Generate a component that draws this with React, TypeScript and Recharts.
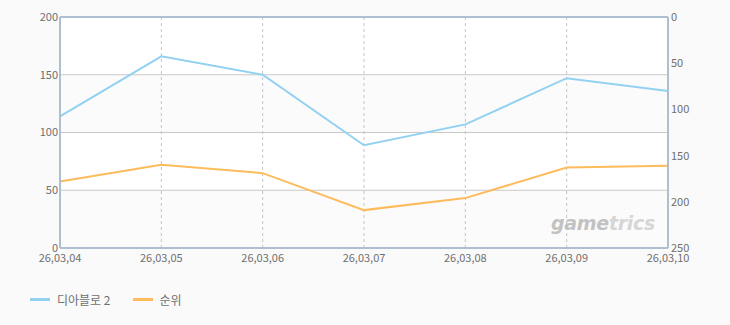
import { CartesianGrid, Line, LineChart, ReferenceLine, XAxis, YAxis } from 'recharts';

const dates = ['26,03,04', '26,03,05', '26,03,06', '26,03,07', '26,03,08', '26,03,09', '26,03,10'];
const users = [114, 166, 150, 89, 107, 147, 136];
const rank = [178, 160, 169, 209, 196, 163, 161];
const leftTicks = [0, 50, 100, 150, 200];
const rightTicks = [0, 50, 100, 150, 200, 250];

const data = dates.map((d, i) => ({ date: d, users: users[i], rank: rank[i] }));

const font = '"Noto Sans CJK KR", "DejaVu Sans", sans-serif';
const tick = { fill: '#6f6f6f', fontSize: 11, fontFamily: font };
const axisBlue = '#aebfd2';

export default function App() {
  return (
    <div style={{ position: 'absolute', left: 0, top: 0, width: 730, height: 325, background: '#fafafa', fontFamily: font }}>
      <LineChart width={730} height={325} data={data} margin={{ top: 17, right: 22, left: 0, bottom: 57 }}>
        <CartesianGrid yAxisId="left" vertical={false} stroke="#c9c9c9" horizontalFill={['#ffffff', '#fbfbfb']} />
        <CartesianGrid yAxisId="left" horizontal={false} stroke="#c4c4c4" strokeDasharray="3 3" />
        <XAxis dataKey="date" tick={tick} tickLine={false} tickSize={0} tickMargin={6} axisLine={{ stroke: axisBlue, strokeWidth: 2 }} height={20} interval={0} />
        <YAxis yAxisId="left" domain={[0, 200]} ticks={leftTicks} tick={tick} tickLine={false} tickSize={0} tickMargin={2} axisLine={{ stroke: axisBlue, strokeWidth: 2 }} width={60} />
        <YAxis yAxisId="right" orientation="right" reversed domain={[0, 250]} ticks={rightTicks} tick={tick} tickLine={false} tickSize={0} tickMargin={3} axisLine={{ stroke: axisBlue, strokeWidth: 2 }} width={40} />
        <ReferenceLine yAxisId="left" y={200} stroke={axisBlue} strokeWidth={2} />
        <Line yAxisId="left" type="linear" dataKey="users" name="디아블로 2" stroke="#93d1f1" strokeWidth={2} dot={false} isAnimationActive={false} />
        <Line yAxisId="right" type="linear" dataKey="rank" name="순위" stroke="#fdbb5c" strokeWidth={2} dot={false} isAnimationActive={false} />
      </LineChart>
      <div style={{ position: 'absolute', left: 551, top: 212, fontFamily: '"DejaVu Sans", sans-serif', fontStyle: 'italic', fontWeight: 'bold', fontSize: 19, letterSpacing: -0.3 }}>
        <span style={{ color: '#c2c2c2' }}>game</span>
        <span style={{ color: '#d6d6d6' }}>trics</span>
      </div>
      <div style={{ position: 'absolute', left: 30, top: 291, display: 'flex', alignItems: 'center', fontSize: 12, color: '#6f6f6f' }}>
        <span style={{ width: 20, height: 3, background: '#93d1f1', marginRight: 7 }} />
        <span style={{ marginRight: 22 }}>디아블로 2</span>
        <span style={{ width: 20, height: 3, background: '#fdbb5c', marginRight: 7 }} />
        <span>순위</span>
      </div>
    </div>
  );
}
